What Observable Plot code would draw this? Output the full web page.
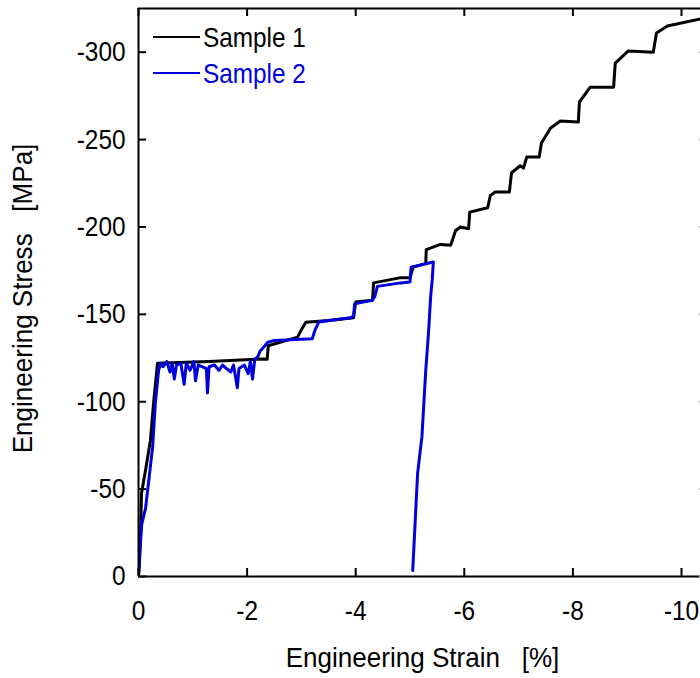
<!DOCTYPE html>
<html>
<head>
<meta charset="utf-8">
<script src="https://cdn.jsdelivr.net/npm/d3@7"></script>
<script src="https://cdn.jsdelivr.net/npm/@observablehq/plot@0.6"></script>
<style>
  html, body { margin: 0; padding: 0; background: #fff; overflow: hidden; }
  #chart { width: 700px; height: 678px; overflow: hidden; }
</style>
</head>
<body>
<div id="chart"></div>
<script>
// ---- data ----
const seriesNames = ["Sample 1", "Sample 2"];
const seriesColors = ["#000000", "#0000dd"];

const strain1 = [0, -0.02, -0.04, -0.055, -0.13, -0.22, -0.28, -0.35, -1.3, -2.3, -2.37, -2.39, -2.93, -2.98, -3.08, -3.5, -3.96, -4.0, -4.31, -4.33, -4.83, -5.0, -5.06, -5.29, -5.30, -5.56, -5.75, -5.84, -5.93, -6.08, -6.10, -6.43, -6.48, -6.57, -6.83, -6.87, -7.03, -7.09, -7.15, -7.38, -7.42, -7.59, -7.77, -8.10, -8.12, -8.32, -8.75, -8.78, -9.02, -9.48, -9.54, -9.74, -10.35, -10.6];
const stress1 = [0, -9, -26, -47.5, -61, -78, -100, -122, -123, -124.5, -124.3, -132, -137, -140, -145.5, -146.5, -148, -157, -158, -168, -171, -171, -177, -179, -187, -190, -189.6, -198, -200, -199, -208.5, -211, -218, -220, -220, -231, -235, -233.7, -240, -240, -248, -256.6, -260.6, -260, -271.5, -280, -280, -293.8, -300.7, -300, -311, -315, -319, -320];

const strain2 = [0, -0.02, -0.06, -0.13, -0.26, -0.31, -0.37, -0.41, -0.45, -0.52, -0.58, -0.62, -0.66, -0.70, -0.78, -0.84, -0.88, -0.95, -1.02, -1.05, -1.10, -1.18, -1.25, -1.27, -1.30, -1.40, -1.48, -1.55, -1.62, -1.70, -1.75, -1.82, -1.85, -1.95, -2.02, -2.06, -2.10, -2.14, -2.20, -2.24, -2.30, -2.38, -2.5, -3.2, -3.25, -3.32, -3.9, -3.96, -3.98, -4.3, -4.35, -4.4, -4.83, -5.0, -5.02, -5.43, -5.41, -5.38, -5.34, -5.29, -5.22, -5.14, -5.05];
const stress2 = [0, -12, -30, -39, -74, -99, -118, -122, -120, -123, -117, -122, -113, -121, -122, -110, -122, -118, -123, -112, -121, -120, -119, -105, -120, -121, -118, -121, -119, -117, -121, -108, -119, -121, -116, -123, -113, -124, -126, -129, -131, -134, -135, -136, -141, -145.6, -148, -149, -156, -158, -160, -166, -168, -168.5, -177, -180, -170, -160, -139, -118, -80, -59, -3.4];

const xTicks = [0, -2, -4, -6, -8, -10];
const yTicks = [0, -50, -100, -150, -200, -250, -300];
const xTitle = "Engineering Strain\u00a0\u00a0\u00a0[%]";
const yTitle = "Engineering Stress\u00a0\u00a0\u00a0[MPa]";

const s1 = strain1.map((x, i) => ({strain: x, stress: stress1[i]}));
const s2 = strain2.map((x, i) => ({strain: x, stress: stress2[i]}));

const fmt = d => String(d);

const chart = Plot.plot({
  width: 700,
  height: 678,
  marginLeft: 138,
  marginRight: 0,
  marginTop: 8,
  marginBottom: 102,
  x: {domain: [0, -10.35]},
  y: {domain: [0, -325]},
  style: {
    fontFamily: "'Liberation Sans', Arial, sans-serif",
    fontSize: "28px",
    background: "#fff",
    color: "#000",
    overflow: "hidden"
  },
  marks: [
    Plot.line(s1, {x: "strain", y: "stress", stroke: seriesColors[0], strokeWidth: 3, clip: true}),
    Plot.line(s2, {x: "strain", y: "stress", stroke: seriesColors[1], strokeWidth: 3, clip: true}),
    // frame
    Plot.ruleX([0], {stroke: "#000", strokeWidth: 2}),
    Plot.ruleY([0], {stroke: "#000", strokeWidth: 2}),
    Plot.ruleY([-325], {stroke: "#000", strokeWidth: 2}),
    // inward ticks
    Plot.ruleY(yTicks, {x1: 0, x2: -0.15, stroke: "#000", strokeWidth: 2}),
    Plot.ruleX(xTicks, {y1: 0, y2: -4.6, stroke: "#000", strokeWidth: 2}),
    Plot.ruleX(xTicks, {y1: -325, y2: -320.4, stroke: "#000", strokeWidth: 2}),
    Plot.ruleY(yTicks, {x1: -10.33, x2: -10.35, stroke: "#bbb", strokeWidth: 2}),
    // tick labels
    Plot.axisY({ticks: yTicks, tickSize: 0, tickPadding: 13, tickFormat: fmt, label: null}),
    Plot.axisX({ticks: xTicks, tickSize: 0, tickPadding: 24, tickFormat: fmt, label: null}),
    // titles
    Plot.text([xTitle], {text: d => d, frameAnchor: "bottom", lineAnchor: "middle", textAnchor: "middle", dy: 82, dx: 3}),
    Plot.text([yTitle], {text: d => d, frameAnchor: "left", lineAnchor: "middle", textAnchor: "middle", rotate: -90, dx: -115, dy: 6})
  ]
});

// legend
const svg = d3.select(chart);
const legendRows = [37, 73];
seriesNames.forEach((name, i) => {
  svg.append("line")
    .attr("x1", 153).attr("x2", 200)
    .attr("y1", legendRows[i]).attr("y2", legendRows[i])
    .attr("stroke", seriesColors[i]).attr("stroke-width", 2);
  svg.append("text")
    .attr("x", 203).attr("y", legendRows[i])
    .attr("dy", "0.36em")
    .attr("text-anchor", "start")
    .attr("fill", seriesColors[i])
    .attr("font-size", 28)
    .text(name);
});

document.getElementById("chart").appendChild(chart);

// the reference uses tall, horizontally condensed lettering
svg.selectAll("text").each(function () {
  const t = this.textContent;
  const f = (t === xTitle || t === yTitle) ? 0.93 : 0.87;
  const w = this.getComputedTextLength();
  if (w > 0) {
    this.setAttribute("textLength", (w * f).toFixed(1));
    this.setAttribute("lengthAdjust", "spacingAndGlyphs");
  }
});
</script>
</body>
</html>
